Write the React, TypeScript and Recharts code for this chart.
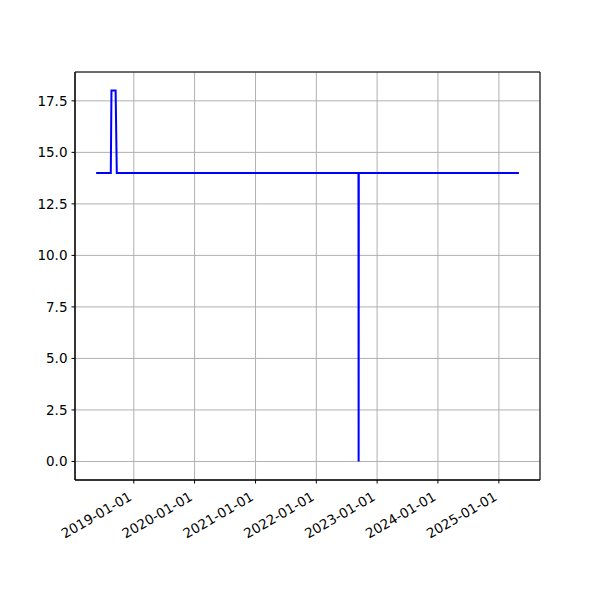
import React from 'react';
import {
  LineChart,
  Line,
  XAxis,
  YAxis,
  CartesianGrid,
  ReferenceArea
} from 'recharts';

// sample dates and values
const dates = [
  '2018-05-20',
  '2018-08-16',
  '2018-08-20',
  '2018-09-14',
  '2018-09-21',
  '2022-09-11',
  '2022-09-12',
  '2022-09-13',
  '2025-05-01'
];
const values = [14, 14, 18, 18, 14, 14, 0, 14, 14];

const xTickLabels = [
  '2019-01-01',
  '2020-01-01',
  '2021-01-01',
  '2022-01-01',
  '2023-01-01',
  '2024-01-01',
  '2025-01-01'
];
const yTicks = [0, 2.5, 5, 7.5, 10, 12.5, 15, 17.5];

const toTime = (d: string) => Date.parse(d + 'T00:00:00Z');

const data = dates.map((d, i) => ({ t: toTime(d), v: values[i] }));
const xTicks = xTickLabels.map(toTime);

// matplotlib-style 5% margins
const tMin = data[0].t;
const tMax = data[data.length - 1].t;
const tPad = (tMax - tMin) * 0.05;
const xDomain = [tMin - tPad, tMax + tPad];
const yDomain = [-0.9, 18.9];

const fmtDate = (t: number) => new Date(t).toISOString().slice(0, 10);

const DateTick = (props: any) => {
  const { x, y, payload } = props;
  const ax = x - 1;
  const ay = y + 14;
  return (
    <text
      x={ax}
      y={ay}
      textAnchor="end"
      fontSize={13.5}
      fill="#000"
      fontFamily="DejaVu Sans"
      transform={`rotate(-30, ${ax}, ${ay})`}
    >
      {fmtDate(payload.value)}
    </text>
  );
};

const App: React.FC = () => {
  return (
    <div style={{ position: 'absolute', left: 0, top: 0, width: 600, height: 600, background: '#fff' }}>
      <LineChart
        width={600}
        height={600}
        data={data}
        margin={{ top: 72, right: 60, left: 15, bottom: 60 }}
      >
        <CartesianGrid stroke="#b0b0b0" strokeWidth={1} />
        <XAxis
          dataKey="t"
          type="number"
          domain={xDomain}
          ticks={xTicks}
          allowDataOverflow
          tick={<DateTick />}
          tickSize={3.5}
          interval={0}
          height={60}
          stroke="#000"
        />
        <YAxis
          type="number"
          domain={yDomain}
          ticks={yTicks}
          allowDataOverflow
          tickFormatter={(v: number) => v.toFixed(1)}
          tickSize={3.5}
          tickMargin={4}
          width={60}
          stroke="#000"
          tick={{ fill: '#000', fontSize: 13.5, fontFamily: 'DejaVu Sans' }}
        />
        <ReferenceArea
          x1={xDomain[0]}
          x2={xDomain[1]}
          y1={yDomain[0]}
          y2={yDomain[1]}
          fill="none"
          stroke="#000"
          strokeWidth={1}
          ifOverflow="extendDomain"
        />
        <Line
          type="linear"
          dataKey="v"
          stroke="#0000ff"
          strokeWidth={2}
          dot={false}
          isAnimationActive={false}
        />
      </LineChart>
    </div>
  );
};

export default App;
